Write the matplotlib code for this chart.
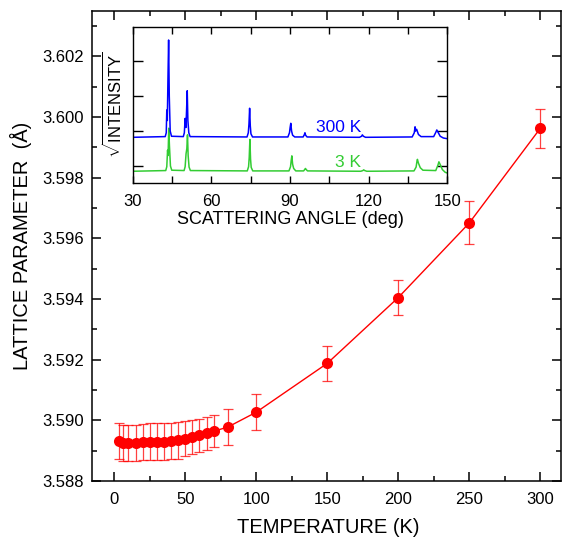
import matplotlib
matplotlib.use("Agg")
import matplotlib.pyplot as plt
from matplotlib.ticker import MultipleLocator

plt.rcParams['font.family'] = ['Liberation Sans', 'DejaVu Sans']
plt.rcParams['mathtext.fontset'] = 'custom'
plt.rcParams['mathtext.rm'] = 'Liberation Sans'

# ---- main data: lattice parameter vs temperature ----
temperature = [3, 6, 10, 15, 20, 25, 30, 35, 40, 45, 50, 55, 60, 65, 70, 80, 100, 150, 200, 250, 300]
lattice = [3.58932, 3.58925, 3.58926, 3.58926, 3.58928, 3.58930, 3.58930, 3.58930, 3.58931,
           3.58934, 3.58939, 3.58945, 3.58951, 3.58957, 3.58964, 3.58978, 3.59027, 3.59188,
           3.59405, 3.59651, 3.59963]
lattice_err = [0.0006, 0.0006, 0.0006, 0.0006, 0.0006, 0.0006, 0.0006, 0.0006, 0.0006,
               0.0006, 0.00058, 0.00056, 0.00055, 0.00054, 0.00053, 0.00058, 0.00059,
               0.00058, 0.00058, 0.00071, 0.00064]

# ---- inset data: diffraction patterns (sqrt intensity, arbitrary units) ----
angle_300K = [30, 42.4, 42.8, 43.0, 43.2, 43.45, 43.7, 43.95, 44.3, 44.8,
              49.3, 49.7, 50.0, 50.3, 50.55, 50.8, 51.05, 51.4, 51.9,
              73.6, 74.1, 74.35, 74.6, 74.85, 75.1, 75.7,
              89.2, 89.8, 90.05, 90.3, 90.6, 91.0, 91.8,
              95.0, 95.5, 95.7, 95.95, 96.5,
              116.5, 117.3, 117.6, 118.0, 118.8,
              136.6, 137.4, 137.7, 137.9, 138.3, 139.0, 140.0,
              144.8, 145.6, 146.0, 146.5, 147.3, 148.5, 150]
sqrtI_300K = [0.82, 0.84, 0.95, 1.6, 1.3, 2.5, 3.6, 2.0, 1.0, 0.85,
              0.84, 0.95, 1.36, 1.1, 1.6, 2.15, 1.3, 0.95, 0.84,
              0.83, 0.95, 1.2, 1.65, 1.15, 0.92, 0.83,
              0.83, 0.95, 1.1, 1.22, 1.0, 0.88, 0.83,
              0.83, 0.9, 0.95, 0.88, 0.83,
              0.82, 0.85, 0.89, 0.85, 0.82,
              0.83, 0.95, 1.12, 1.0, 1.05, 0.9, 0.84,
              0.84, 0.96, 1.03, 0.96, 0.85, 0.80, 0.78]

angle_3K = [30, 42.6, 43.0, 43.3, 43.5, 43.75, 44.0, 44.4, 44.9,
            49.6, 50.0, 50.35, 50.65, 50.9, 51.15, 51.5, 52.0,
            73.7, 74.2, 74.45, 74.7, 74.95, 75.2, 75.8,
            89.6, 90.2, 90.45, 90.7, 91.0, 91.4, 92.2,
            95.2, 95.7, 95.9, 96.15, 96.7,
            117.0, 117.8, 118.1, 118.5, 119.3,
            137.3, 138.1, 138.4, 138.6, 139.0, 139.7, 140.7,
            145.6, 146.4, 146.8, 147.3, 148.1, 149.2, 150]
sqrtI_3K = [-0.15, -0.13, -0.02, 0.45, 0.3, 1.08, 0.6, 0.0, -0.12,
            -0.13, -0.02, 0.35, 0.5, 0.89, 0.3, -0.03, -0.13,
            -0.14, -0.02, 0.25, 0.76, 0.2, -0.04, -0.14,
            -0.14, -0.02, 0.15, 0.29, 0.05, -0.07, -0.14,
            -0.14, -0.09, -0.07, -0.10, -0.14,
            -0.15, -0.13, -0.11, -0.13, -0.15,
            -0.14, -0.03, 0.12, 0.19, 0.08, -0.05, -0.12,
            -0.13, 0.02, 0.12, 0.04, -0.10, -0.18, -0.20]

RED = '#ff0000'
BLUE = '#0000ff'
GREEN = '#33cc33'

fig = plt.figure(figsize=(5.62, 5.37), dpi=100)
ax = fig.add_axes([92/562, 56/537, 469/562, 470/537])

ax.errorbar(temperature, lattice, yerr=lattice_err, fmt='none', ecolor=RED,
            elinewidth=0.9, capsize=3.6, capthick=0.9, alpha=0.75, zorder=2)
ax.plot(temperature, lattice, '-o', color=RED, lw=1.0, markersize=8,
        markeredgewidth=0, zorder=3)

ax.set_xlim(-15.7, 314.6)
ax.set_ylim(3.588, 3.6035)
ax.xaxis.set_major_locator(MultipleLocator(50))
ax.xaxis.set_minor_locator(MultipleLocator(25))
ax.yaxis.set_major_locator(MultipleLocator(0.002))
ax.yaxis.set_minor_locator(MultipleLocator(0.001))
ax.yaxis.set_major_formatter(matplotlib.ticker.FormatStrFormatter('%.3f'))
ax.tick_params(which='both', direction='in', top=True, right=True, width=1.1)
ax.tick_params(which='major', length=6.3, labelsize=12)
ax.tick_params(which='minor', length=3.8)
ax.tick_params(axis='x', which='major', pad=8)
ax.tick_params(axis='y', which='major', pad=6)
for s in ax.spines.values():
    s.set_linewidth(1.1)
ax.set_xlabel('TEMPERATURE (K)', fontsize=14.5)
ax.set_ylabel('LATTICE PARAMETER  (Å)', fontsize=14.5)
ax.xaxis.set_label_coords(0.503, -0.078)
ax.yaxis.set_label_coords(-0.128, 0.5)

# ---- inset ----
ins = fig.add_axes([132.7/562, (537-183.3)/537, (447.3-132.7)/562, (183.3-26.7)/537])
ins.plot(angle_3K, sqrtI_3K, color=GREEN, lw=1.1)
ins.plot(angle_300K, sqrtI_300K, color=BLUE, lw=1.1)
ins.set_xlim(30, 150)
ins.set_ylim(-0.494, 3.98)
ins.xaxis.set_major_locator(MultipleLocator(30))
ins.xaxis.set_minor_locator(MultipleLocator(15))
ins.set_yticks([0, 1, 2, 3])
ins.set_yticklabels([])
ins.tick_params(which='both', direction='in', top=True, right=True, width=1.0)
ins.tick_params(axis='x', which='both', length=4.8, labelsize=12, pad=8)
ins.tick_params(axis='y', which='both', length=7.5)
for s in ins.spines.values():
    s.set_linewidth(1.0)
ins.set_xlabel('SCATTERING ANGLE (deg)', fontsize=13)
ins.xaxis.set_label_coords(0.5, -0.177)
ins.set_ylabel(r'$\sqrt{\mathrm{INTENSITY}}$', fontsize=12, labelpad=2)
ins.text(108.6, 1.09, '300 K', color=BLUE, fontsize=12.5, ha='center', va='center')
ins.text(112.2, 0.086, '3 K', color=GREEN, fontsize=12.5, ha='center', va='center')

fig.savefig('out.png', dpi=100)
